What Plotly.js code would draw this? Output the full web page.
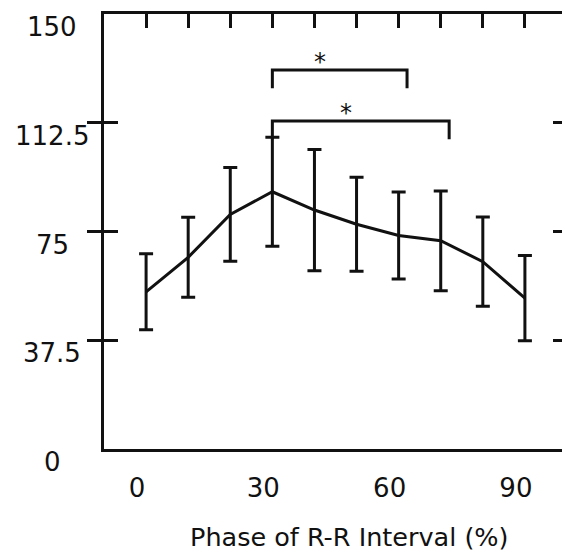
<!DOCTYPE html>
<html>
<head>
<meta charset="utf-8">
<script src="https://cdn.plot.ly/plotly-3.0.1.min.js"></script>
<style>
html,body{margin:0;padding:0;overflow:hidden;background:#fff;}
#chart{width:580px;height:552px;}
</style>
</head>
<body>
<div id="chart"></div>
<script>
// Data
var phase = [0, 10, 20, 30, 40, 50, 60, 70, 80, 90];
var meanValues = [54.2, 66.1, 80.9, 88.7, 82.4, 77.5, 73.6, 71.8, 64.6, 52.0];
var errValues = [13.1, 13.8, 16.2, 18.8, 20.9, 16.2, 15.0, 17.2, 15.4, 14.7];
var xTickVals = [0, 30, 60, 90];
var xTickText = ['0', '30', '60', '90'];
var yTickVals = [0, 37.5, 75, 112.5, 150];
var yTickText = ['0', '37.5', '75', '112.5', '150'];
var topTickVals = [0, 10, 20, 30, 40, 50, 60, 70, 80, 90];
var xTitle = 'Phase of R-R Interval (%)';
// significance brackets
var bracketFrom = [30, 30];
var bracketTo = [62, 72];
var bracketLevel = [130.7, 113.1];
var bracketLegEnd = [124.4, 106.8];
var starX = [41.4, 47.4];
var starY = [134.8, 117.2];
var starText = ['*', '*'];

var FONT = 'DejaVu Sans, Liberation Sans, Arial, sans-serif';
var INK = '#111111';
var LW = 3;

var traces = [
  {
    x: phase, y: meanValues, type: 'scatter', mode: 'lines',
    line: {color: INK, width: LW},
    error_y: {type: 'data', array: errValues, visible: true, color: INK, thickness: LW, width: 7},
    hoverinfo: 'x+y', showlegend: false
  },
  {
    x: phase, y: meanValues, type: 'scatter', mode: 'lines', xaxis: 'x2',
    line: {color: 'rgba(0,0,0,0)', width: 0}, hoverinfo: 'skip', showlegend: false
  }
];

var shapes = [];
for (var i = 0; i < bracketFrom.length; i++) {
  shapes.push({type: 'path', xref: 'x', yref: 'y',
    path: 'M ' + bracketFrom[i] + ' ' + bracketLegEnd[i] + ' L ' + bracketFrom[i] + ' ' + bracketLevel[i] +
          ' L ' + bracketTo[i] + ' ' + bracketLevel[i] + ' L ' + bracketTo[i] + ' ' + bracketLegEnd[i],
    line: {color: INK, width: LW}});
}

var annotations = [];
for (var j = 0; j < starX.length; j++) {
  annotations.push({x: starX[j], y: starY[j], xref: 'x', yref: 'y', text: starText[j], showarrow: false,
    font: {family: FONT, size: 24, color: INK}, xanchor: 'center', yanchor: 'middle', yshift: -4});
}
for (var k = 0; k < yTickVals.length; k++) {
  annotations.push({x: -0.112, y: yTickVals[k], xref: 'paper', yref: 'y', text: yTickText[k], showarrow: false,
    font: {family: FONT, size: 26, color: INK}, xanchor: 'center', yanchor: 'middle', yshift: -13});
}
annotations.push({x: 0.53, y: -0.202, xref: 'paper', yref: 'paper', text: xTitle, showarrow: false,
  font: {family: FONT, size: 25.5, color: INK}, xanchor: 'center', yanchor: 'middle'});

var layout = {
  width: 580, height: 552,
  margin: {l: 104, r: 13, t: 14, b: 103},
  paper_bgcolor: '#ffffff', plot_bgcolor: '#ffffff',
  showlegend: false,
  xaxis: {
    range: [-10, 100], showgrid: false, zeroline: false,
    showline: true, linecolor: INK, linewidth: LW,
    ticks: '', tickvals: xTickVals, ticktext: xTickText,
    tickfont: {family: FONT, size: 26, color: INK},
    ticklabelshift: -9, ticklabelstandoff: 14
  },
  xaxis2: {
    overlaying: 'x', side: 'top', matches: 'x', range: [-10, 100],
    showgrid: false, zeroline: false,
    showline: true, linecolor: INK, linewidth: LW,
    ticks: 'inside', ticklen: 14, tickwidth: LW, tickcolor: INK,
    tickvals: topTickVals, showticklabels: false
  },
  yaxis: {
    range: [0, 150], showgrid: false, zeroline: false,
    showline: true, linecolor: INK, linewidth: LW, mirror: 'allticks',
    ticks: 'inside', ticklen: 14, tickwidth: LW, tickcolor: INK,
    tickvals: yTickVals, showticklabels: false
  },
  shapes: shapes,
  annotations: annotations
};

Plotly.newPlot('chart', traces, layout, {staticPlot: true, displayModeBar: false});
</script>
</body>
</html>
